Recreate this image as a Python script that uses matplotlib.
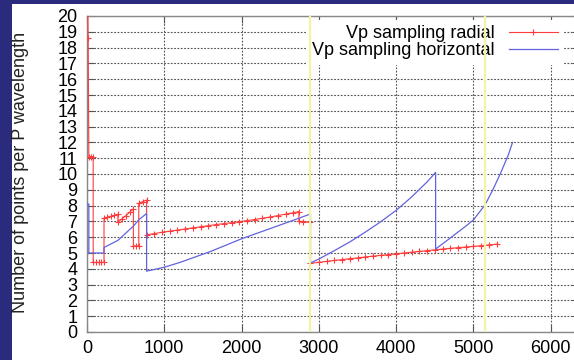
import matplotlib
matplotlib.use("Agg")
import matplotlib.pyplot as plt
from matplotlib.patches import Rectangle

plt.rcParams['font.family'] = ['Liberation Sans', 'DejaVu Sans']

# Depth (km) and number of grid points per P wavelength, radial direction
radial_depth = [0, 15, 24, 50, 80,
                80, 115, 150, 185, 220,
                220, 265, 310, 355, 400,
                400, 450, 500, 550, 600,
                600, 635, 670,
                670, 720, 771,
                771, 870, 970, 1070, 1170, 1270, 1370, 1470, 1570, 1670, 1770,
                1870, 1970, 2070, 2170, 2270, 2370, 2470, 2570, 2670, 2741,
                2741, 2800, 2891,
                2891, 3000, 3100, 3200, 3300, 3400, 3500, 3600, 3700, 3800,
                3900, 4000, 4100, 4200, 4300, 4400, 4500, 4600, 4700, 4800,
                4900, 5000, 5100, 5200, 5300]
radial_points = [24.0, 18.6, 11.1, 11.1, 11.1,
                 4.4, 4.4, 4.4, 4.4, 4.4,
                 7.2, 7.26, 7.32, 7.38, 7.45,
                 6.95, 7.15, 7.35, 7.57, 7.8,
                 5.45, 5.45, 5.45,
                 8.15, 8.25, 8.35,
                 6.15, 6.23, 6.31, 6.38, 6.45, 6.52, 6.59, 6.66, 6.73, 6.80, 6.86,
                 6.92, 6.98, 7.05, 7.12, 7.20, 7.28, 7.37, 7.46, 7.55, 7.62,
                 7.0, 6.98, 6.96,
                 4.35, 4.41, 4.47, 4.53, 4.58, 4.64, 4.69, 4.75, 4.80, 4.85,
                 4.90, 4.95, 5.00, 5.05, 5.10, 5.15, 5.20, 5.25, 5.29, 5.34,
                 5.38, 5.42, 5.46, 5.51, 5.56]

# Depth (km) and number of grid points per P wavelength, horizontal direction
horiz_depth = [0, 24, 24, 120, 220,
               220, 300, 400, 500, 600, 670, 771,
               771, 1000, 1200, 1400, 1600, 1800, 2000, 2200, 2400, 2600, 2891,
               2891, 3000, 3200, 3400, 3600, 3800, 4000, 4200, 4400, 4510,
               4510, 4700, 4900, 5000, 5150, 5250, 5350, 5450, 5505]
horiz_points = [8.1, 8.1, 5.0, 5.0, 5.0,
                5.35, 5.55, 5.8, 6.25, 6.7, 7.1, 7.5,
                3.85, 4.1, 4.4, 4.75, 5.1, 5.5, 5.9, 6.25, 6.6, 6.95, 7.47,
                4.37, 4.62, 5.15, 5.7, 6.32, 6.98, 7.7, 8.55, 9.5, 10.1,
                5.25, 5.95, 6.7, 7.1, 8.05, 9.0, 10.05, 11.2, 12.0]

# Core-mantle and inner-core boundaries (km)
boundaries = [2891, 5150]

x_ticks = [0, 1000, 2000, 3000, 4000, 5000, 6000]
y_ticks = list(range(0, 21))

W, H = 574, 360
fig = plt.figure(figsize=(W / 100, H / 100), dpi=100)
fig.patch.set_facecolor('#2b2b7d')
fig.add_artist(Rectangle((12 / W, 0), 1, (H - 4) / H, transform=fig.transFigure,
                         facecolor='white', edgecolor='none', zorder=-1))

px_per_km = 77.3 / 1000
ax = fig.add_axes([87 / W, 28 / H, 6371 * px_per_km / W, 316 / H])
ax.set_xlim(0, 6371)
ax.set_ylim(0, 20)

ax.plot(radial_depth, radial_points, color='#ff3b3b', lw=0.8, marker='+',
        ms=4.5, mew=0.8, label='Vp sampling radial', zorder=3)
ax.plot(horiz_depth, horiz_points, color='#6262e0', lw=0.9,
        label='Vp sampling horizontal', zorder=3)

for b in boundaries:
    ax.axvline(b, color='#f3f3a6', lw=1.6, zorder=6)

ax.set_xticks(x_ticks)
ax.set_yticks(y_ticks)
ax.grid(True, linestyle=(0, (1.6, 1.4)), color='#555555', lw=0.8, zorder=1)
ax.tick_params(direction='in', top=True, right=True, length=5, width=0.8,
               color='#555555', labelsize=13, labelcolor='black')
ax.tick_params(axis='x', pad=6)
ax.tick_params(axis='y', pad=7)
for s in ax.spines.values():
    s.set_color('#888888')
    s.set_linewidth(1.0)

fig.text(21 / W, 1 - 172 / H, 'Number of points per P wavelength', rotation=90,
         ha='center', va='center', fontsize=13, color='#222222')

leg = ax.legend(loc='upper right', bbox_to_anchor=(563 / W, 1 - 20 / H),
                bbox_transform=fig.transFigure, markerfirst=False, frameon=True,
                fancybox=False, framealpha=1, edgecolor='none', facecolor='white',
                borderpad=0.3, borderaxespad=0, handlelength=2.7,
                handletextpad=0.8, labelspacing=0.0, fontsize=13)

fig.savefig('out.png', dpi=100, facecolor=fig.get_facecolor())
